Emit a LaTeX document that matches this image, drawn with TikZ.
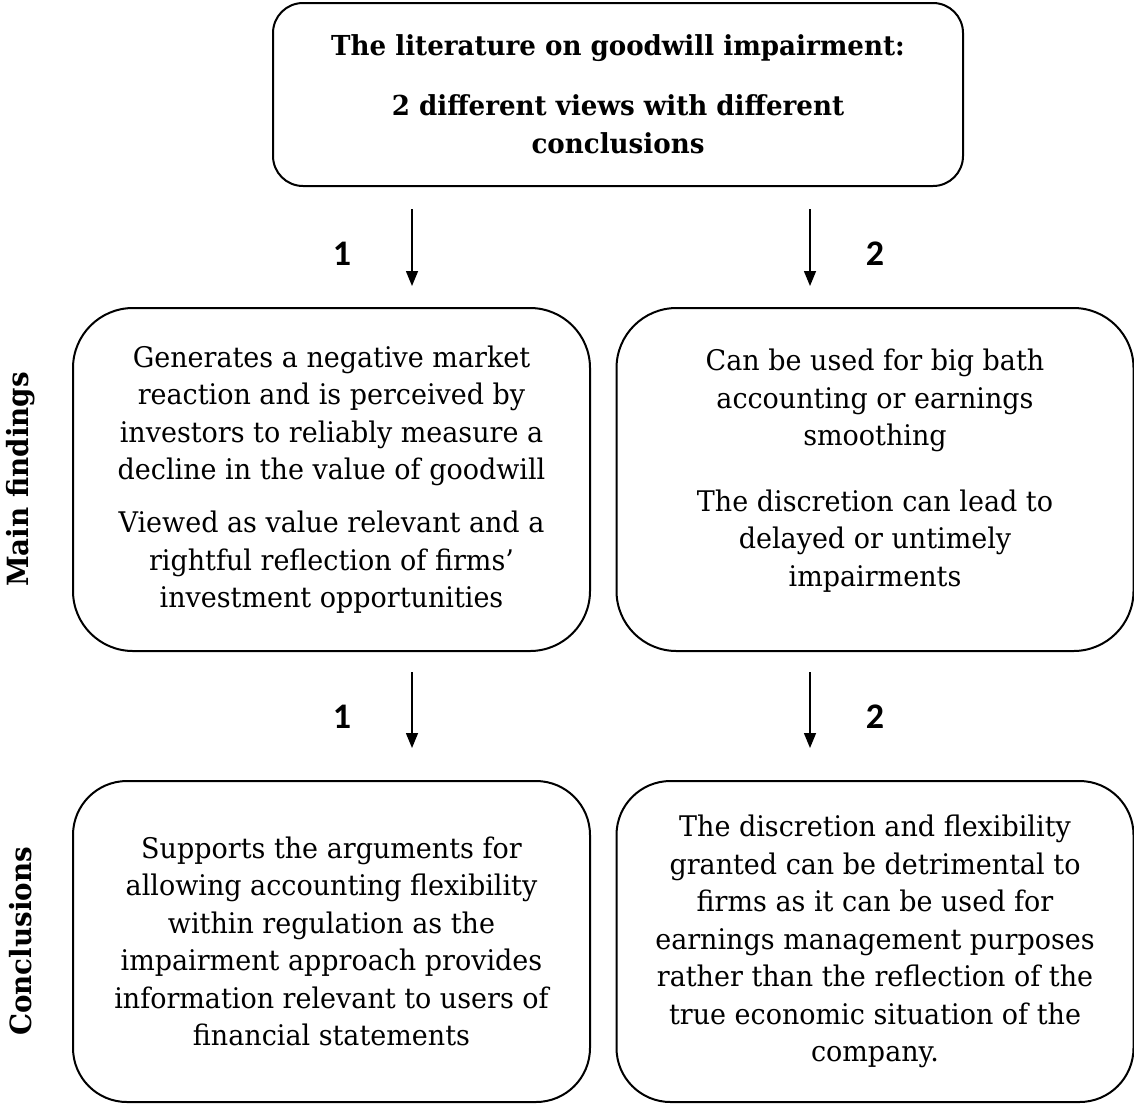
\documentclass[tikz,border=0pt]{standalone}
\usepackage{fontspec}
\setmainfont{DejaVu Serif}[FakeStretch=0.95]
\newfontfamily\numfont{Carlito}
\usetikzlibrary{arrows.meta}

\begin{document}
\begin{tikzpicture}[x=0.5pt, y=-0.5pt,
  every node/.style={font=\fontsize{14.2}{18.75}\selectfont},
  card/.style={draw, line width=1pt, align=center, inner sep=0pt},
  wide/.style={card, minimum width=258.5pt},
  numlbl/.style={font=\numfont\bfseries\fontsize{18}{20}\selectfont},
  sidelbl/.style={rotate=90, font=\bfseries\fontsize{14.6}{18.75}\selectfont}]

\useasboundingbox (0,0) rectangle (1134,1104);

% top box
\node[card, rounded corners=15pt, minimum width=345pt, minimum height=91.5pt,
      font=\bfseries\fontsize{13.75}{19}\selectfont] (T) at (618,94.5)
  {The literature on goodwill impairment:\\[11pt]
   2 different views with different\\ conclusions};

% main findings
\node[wide, rounded corners=30pt, minimum height=171.5pt] (F1) at (331.5,479.5)
  {Generates a negative market\\ reaction and is perceived by\\
   investors to reliably measure a\\ decline in the value of goodwill\\[7.75pt]
   Viewed as value relevant and a\\ rightful reflection of firms'\\
   investment opportunities};
\node[wide, rounded corners=30pt, minimum height=171.5pt] (F2) at (875,479.5)
  {Can be used for big bath\\ accounting or earnings\\ smoothing\\[14pt]
   The discretion can lead to\\ delayed or untimely\\ impairments\\[-7pt]\mbox{}};

% conclusions
\node[wide, rounded corners=27pt, minimum height=160.5pt] (C1) at (331.5,941.5)
  {Supports the arguments for\\ allowing accounting flexibility\\
   within regulation as the\\ impairment approach provides\\
   information relevant to users of\\ financial statements};
\node[wide, rounded corners=27pt, minimum height=160.5pt] (C2) at (875,941.5)
  {The discretion and flexibility\\ granted can be detrimental to\\
   firms as it can be used for\\ earnings management purposes\\
   rather than the reflection of the\\ true economic situation of the\\
   company.};

% row labels
\node[sidelbl] (S1) at (21,479.5) {Main findings};
\node[sidelbl] (S2) at (21,941.5) {Conclusions};

% arrows
\coordinate (a1) at (412,209);  \coordinate (b1) at (412,286);
\coordinate (a2) at (810,209);  \coordinate (b2) at (810,286);
\coordinate (a3) at (412,672);  \coordinate (b3) at (412,748);
\coordinate (a4) at (810,672);  \coordinate (b4) at (810,748);

\draw[-{Triangle[length=7.5pt,width=6pt]}, line width=0.75pt] (a1) -- (b1);
\draw[-{Triangle[length=7.5pt,width=6pt]}, line width=0.75pt] (a2) -- (b2);
\draw[-{Triangle[length=7.5pt,width=6pt]}, line width=0.75pt] (a3) -- (b3);
\draw[-{Triangle[length=7.5pt,width=6pt]}, line width=0.75pt] (a4) -- (b4);

\node[numlbl] (N1) at (342,254) {1};
\node[numlbl] (N2) at (875,254) {2};
\node[numlbl] (N3) at (342,717) {1};
\node[numlbl] (N4) at (875,717) {2};
\end{tikzpicture}
\end{document}
